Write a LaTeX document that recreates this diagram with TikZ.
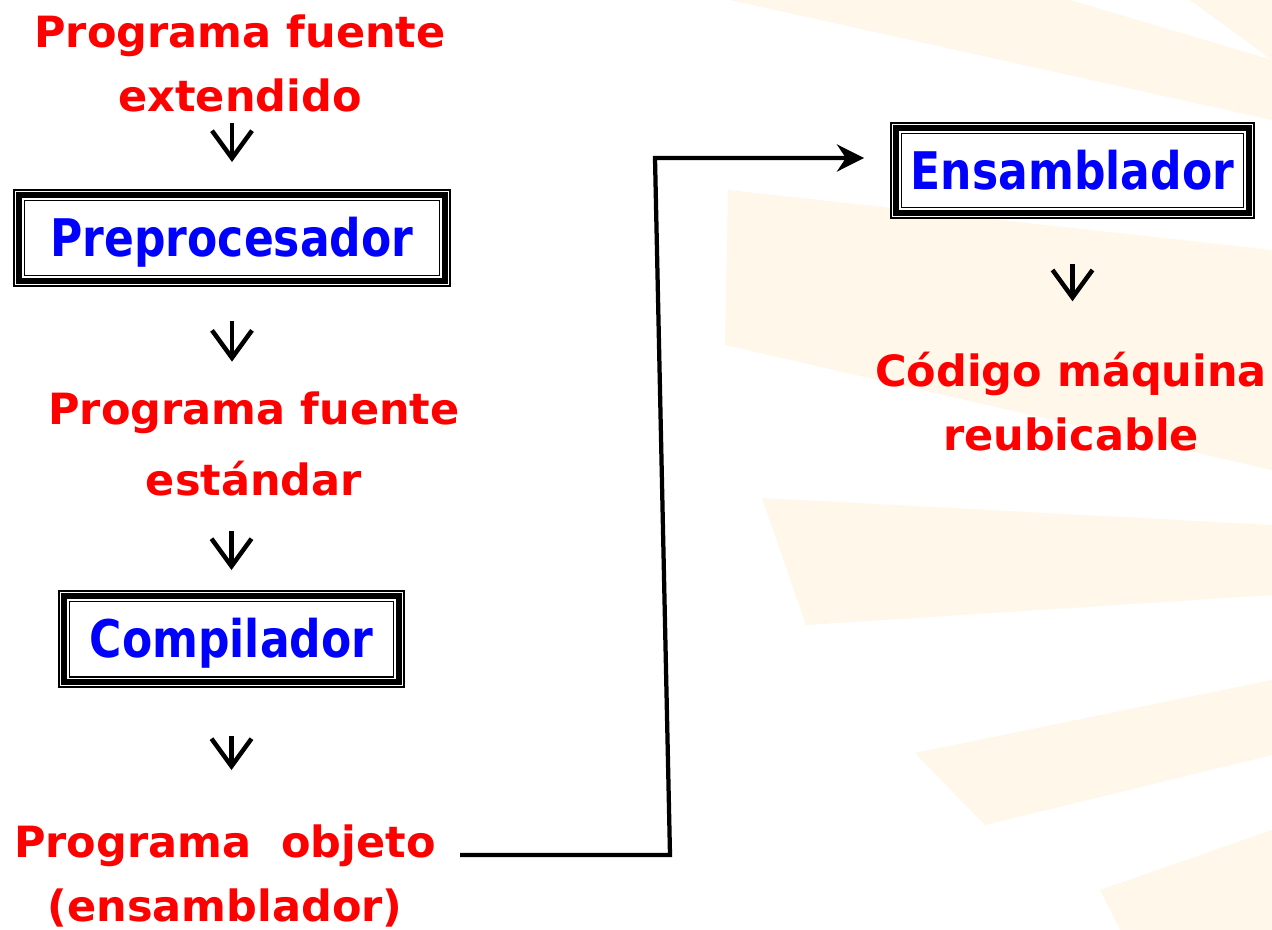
\documentclass[tikz,border=0pt]{standalone}
\usepackage{fontspec}
\setmainfont{DejaVu Sans}
\newfontfamily\tahoma{DejaVu Sans}[FakeStretch=0.85]
\usetikzlibrary{arrows.meta}
\definecolor{rayo}{RGB}{254,247,234}
\tikzset{
  rojo/.style={text=red, font=\fontsize{24.5}{36.4}\selectfont\bfseries,
    align=center, inner sep=0pt, anchor=base},
  caja/.style={text=blue, font=\tahoma\fontsize{29.5}{35}\selectfont\bfseries,
    draw=black, line width=0.12cm, inner sep=0pt,
    preaction={fill=white},
    preaction={draw=black, line width=0.03cm, double=white, double distance=0.18cm},
    minimum height=1.72cm, text height=21.5pt, text depth=0pt},
  flecha/.style={line width=0.09cm, -{Straight Barb[length=0.55cm,width=0.8cm]}},
  linea/.style={line width=0.085cm, -{Stealth[length=0.54cm,width=0.54cm]}}
}
\begin{document}
\begin{tikzpicture}[x=0.02cm, y=-0.02cm]
      \fill[white] (0,0) rectangle (1272,930);
      \useasboundingbox (0,0) rectangle (1272,930);
      \begin{scope}[fill=rayo]
        \fill (730,0) -- (1070,0) -- (1272,60) -- (1272,120) -- cycle;
        \fill (1190,0) -- (1272,0) -- (1272,60) -- cycle;
        \fill (728,190) -- (1272,250) -- (1272,470) -- (725,345) -- cycle;
        \fill (762,498) -- (1272,525) -- (1272,595) -- (806,625) -- cycle;
        \fill (915,753) -- (1272,680) -- (1272,755) -- (985,825) -- cycle;
        \fill (1100,890) -- (1272,830) -- (1272,930) -- (1120,930) -- cycle;
      \end{scope}
      \node[rojo] (ext) at (240,111) {Programa fuente\\extendido};
      \node[caja, minimum width=8.52cm] (pre) at (232,238) {Preprocesador};
      \node[rojo, font=\fontsize{24.5}{40}\selectfont\bfseries] (std) at (254,495) {Programa fuente\\estándar};
      \node[caja, minimum width=6.7cm] (comp) at (231.5,639) {Compilador};
      \node[rojo] (obj) at (225,921) {Programa~~objeto\\(ensamblador)};
      \node[caja, minimum width=7.06cm, minimum height=1.7cm] (ens) at (1072.5,170.5) {Ensamblador};
      \node[rojo] (cod) at (1071,450) {Código máquina\\reubicable};
      \coordinate (codo1) at (670,855);
      \coordinate (codo2) at (655,158);
      \begin{scope}
        \draw[flecha, shorten <=0.22cm, shorten >=0.6cm] (pre.north |- ext.south) -- (pre.north);
        \draw[flecha, shorten <=0.74cm, shorten >=0.6cm] (pre.south) -- (pre.south |- std.north);
        \draw[flecha, shorten <=0.7cm, shorten >=0.46cm] (std.south -| comp.north) -- (comp.north);
        \draw[flecha, shorten <=1.02cm, shorten >=1.08cm] (comp.south) -- (comp.south |- obj.north);
        \draw[flecha, shorten <=0.97cm, shorten >=1.0cm] (ens.south) -- (ens.south |- cod.north);
        \draw[linea, shorten <=0.48cm, shorten >=0.58cm] (obj.east |- codo1) -- (codo1) -- (codo2) -- (codo2 -| ens.west);
      \end{scope}
    \end{tikzpicture}
\end{document}
